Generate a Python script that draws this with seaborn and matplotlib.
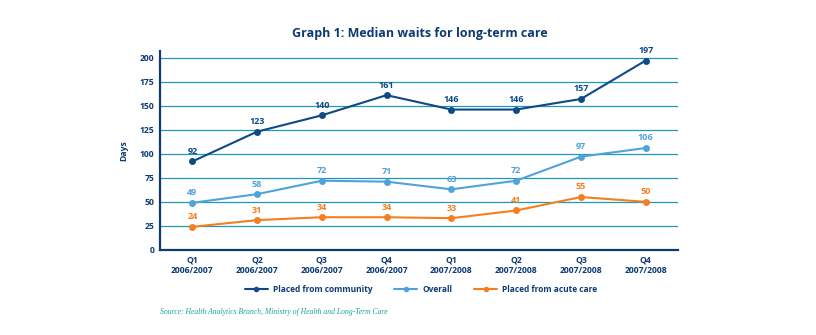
import matplotlib
matplotlib.use("Agg")
import matplotlib.pyplot as plt
import seaborn as sns
import pandas as pd
from matplotlib.lines import Line2D

categories = ["Q1\n2006/2007", "Q2\n2006/2007", "Q3\n2006/2007", "Q4\n2006/2007",
              "Q1\n2007/2008", "Q2\n2007/2008", "Q3\n2007/2008", "Q4\n2007/2008"]
community = [92, 123, 140, 161, 146, 146, 157, 197]
overall = [49, 58, 72, 71, 63, 72, 97, 106]
acute = [24, 31, 34, 34, 33, 41, 55, 50]
series_names = ["Placed from community", "Overall", "Placed from acute care"]
yticks = [0, 25, 50, 75, 100, 125, 150, 175, 200]

sns.set_style("white")
plt.rcParams['font.family'] = ['Open Sans', 'DejaVu Sans']

navy = "#0d3b73"
colors = {"Placed from community": "#0f4a86", "Overall": "#4fa3db", "Placed from acute care": "#f47f20"}
grid_c = "#1e9ab8"

rows = []
for name, vals in zip(series_names, [community, overall, acute]):
    for i, v in enumerate(vals):
        rows.append({"x": i, "cat": categories[i], "value": v, "series": name})
df = pd.DataFrame(rows)

fig = plt.figure(figsize=(8.16, 3.35), dpi=100)
ax = fig.add_axes([0.196, 0.254, 0.635, 0.594])

for y in yticks[1:]:
    ax.axhline(y, color=grid_c, lw=0.9, zorder=0)

sns.lineplot(data=df, x="x", y="value", hue="series", palette=colors,
             hue_order=series_names, marker="o", markersize=5, markeredgewidth=0,
             linewidth=1.5, ax=ax, legend=False, zorder=3)

for name, vals in zip(series_names, [community, overall, acute]):
    for i, v in enumerate(vals):
        ax.annotate(str(v), (i, v), xytext=(0, 4), textcoords="offset points",
                    ha="center", va="bottom", fontsize=6.5, fontweight="bold",
                    color=colors[name])

ax.set_xlim(-0.5, 7.5)
ax.set_ylim(0, 207)
ax.set_yticks(yticks)
ax.set_xticks(range(len(categories)))
ax.set_xticklabels(categories)
ax.tick_params(axis="both", labelsize=6.2, colors=navy, length=0, pad=4)
for lab in ax.get_xticklabels() + ax.get_yticklabels():
    lab.set_fontweight("bold")
ax.set_xlabel("")
ax.set_ylabel("Days", fontsize=6.2, fontweight="bold", color=navy, labelpad=8)

for s in ["top", "right"]:
    ax.spines[s].set_visible(False)
for s in ["left", "bottom"]:
    ax.spines[s].set_color(navy)
    ax.spines[s].set_linewidth(1.6)

fig.text(0.514, 0.9, "Graph 1: Median waits for long-term care", ha="center", va="center",
         fontsize=9, fontweight="bold", color=navy)

handles = [Line2D([0], [0], color=colors[n], marker="o", markersize=4, markeredgewidth=0, lw=1.5)
           for n in series_names]
fig.legend(handles, series_names, loc="center", bbox_to_anchor=(0.516, 0.137), ncol=3,
           frameon=False, prop={"size": 6.0, "weight": "bold"}, handlelength=2.8,
           handletextpad=0.6, columnspacing=2.6, labelcolor=navy)

fig.text(0.196, 0.07, "Source: Health Analytics Branch, Ministry of Health and Long-Term Care",
         ha="left", va="center", fontsize=5.5, fontstyle="italic", color="#1aa59a",
         family=["Liberation Serif", "DejaVu Serif"])

fig.savefig("out.png", dpi=100)
